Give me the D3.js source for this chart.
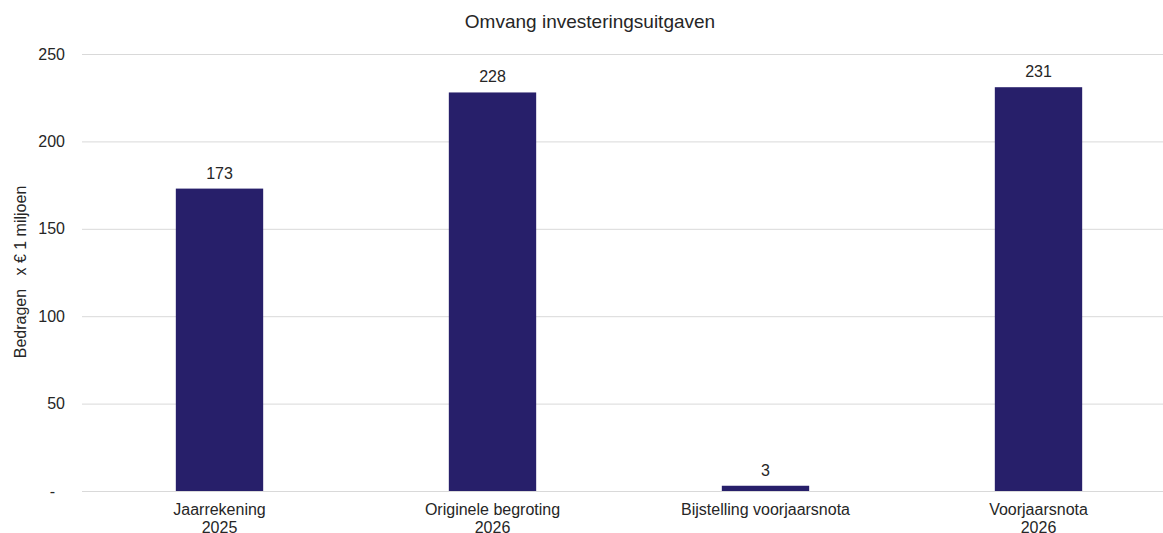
<!DOCTYPE html>
<html>
<head>
<meta charset="utf-8">
<script src="https://cdn.jsdelivr.net/npm/d3@7"></script>
<style>
  html, body { margin: 0; padding: 0; background: #fff; }
  svg { display: block; font-family: "Liberation Sans", Arial, sans-serif; }
</style>
</head>
<body>
<svg id="chart" width="1163" height="533"></svg>
<script>
const title = "Omvang investeringsuitgaven";
const yLabel = "Bedragen   x € 1 miljoen";
const categories = [["Jaarrekening", "2025"], ["Originele begroting", "2026"], ["Bijstelling voorjaarsnota"], ["Voorjaarsnota", "2026"]];
const values = [173, 228, 3, 231];
const yTicks = [0, 50, 100, 150, 200, 250];

(function () {
const svg = d3.select("#chart");
const plotLeft = 83, plotRight = 1175, plotTop = 54, plotBottom = 491;
const txt = "#262626";

const x = d3.scaleBand().domain(d3.range(categories.length)).range([plotLeft, plotRight]).paddingInner(0.68).paddingOuter(0.34);
const y = d3.scaleLinear().domain([0, 250]).range([plotBottom, plotTop]);

// gridlines
svg.append("g").selectAll("line").data(yTicks).join("line")
  .attr("x1", plotLeft - 1).attr("x2", plotRight)
  .attr("y1", d => y(d) + 0.5).attr("y2", d => y(d) + 0.5)
  .attr("stroke", "#d9d9d9").attr("stroke-width", 1);

// y axis labels
const yAxis = d3.axisLeft(y).tickValues(yTicks).tickSize(0).tickPadding(0)
  .tickFormat(d => d === 0 ? "-" : d3.format("d")(d));
const gy = svg.append("g").attr("transform", `translate(65,0)`).call(yAxis);
gy.select(".domain").remove();
gy.selectAll("text").attr("font-size", 16).attr("fill", txt)
  .attr("font-family", "Liberation Sans, Arial, sans-serif")
  .attr("x", d => d === 0 ? -10 : 0);

// bars
svg.append("g").selectAll("rect").data(values).join("rect")
  .attr("x", (d, i) => x(i)).attr("width", x.bandwidth())
  .attr("y", d => y(d)).attr("height", d => y(0) - y(d))
  .attr("fill", "#271f6a");

// value labels
svg.append("g").selectAll("text").data(values).join("text")
  .attr("x", (d, i) => x(i) + x.bandwidth() / 2)
  .attr("y", d => y(d) - 10)
  .attr("text-anchor", "middle").attr("font-size", 16).attr("fill", txt)
  .text(d => d);

// x axis labels
const xAxis = d3.axisBottom(x).tickSize(0).tickPadding(0).tickFormat(() => "");
const gx = svg.append("g").attr("transform", `translate(0,${plotBottom})`).call(xAxis);
gx.select(".domain").remove();
gx.selectAll(".tick").each(function(i) {
  const t = d3.select(this).select("text").attr("y", 0).attr("dy", 0)
    .attr("font-size", 16).attr("fill", txt)
    .attr("font-family", "Liberation Sans, Arial, sans-serif");
  categories[i].forEach((line, k) => {
    t.append("tspan").attr("x", 0).attr("y", 24 + k * 18).text(line);
  });
});

// title
svg.append("text").attr("x", 590).attr("y", 28).attr("text-anchor", "middle")
  .attr("font-size", 19).attr("fill", txt).text(title);

// y label
svg.append("text").attr("transform", `translate(26,272) rotate(-90)`)
  .attr("text-anchor", "middle").attr("font-size", 16).attr("fill", txt)
  .attr("xml:space", "preserve").style("white-space", "pre").text(yLabel);
})();
</script>
</body>
</html>
